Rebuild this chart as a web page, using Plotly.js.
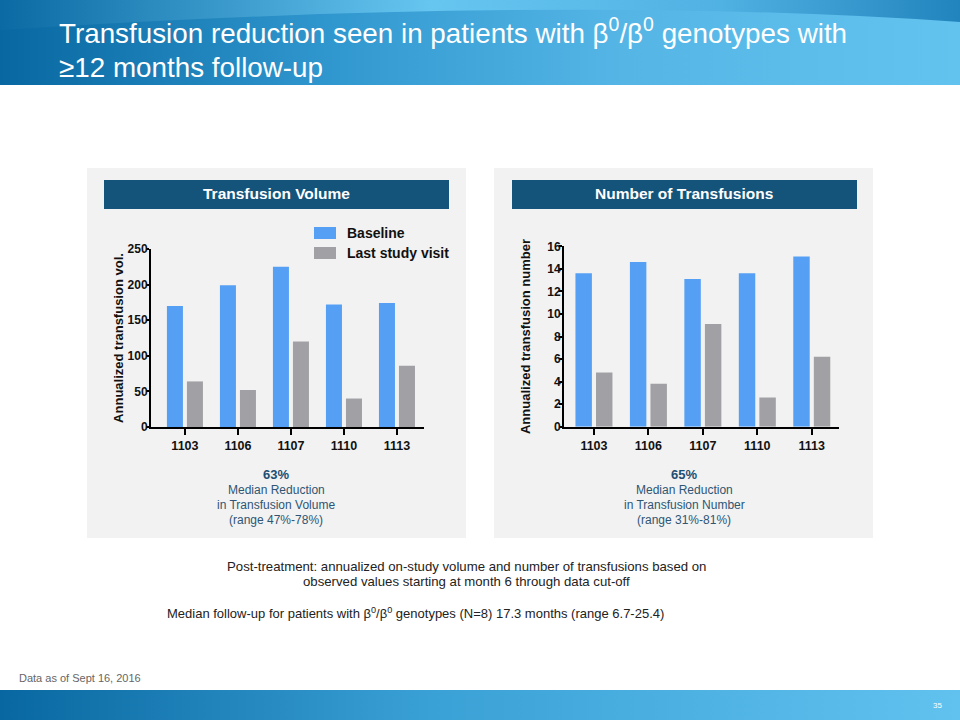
<!DOCTYPE html>
<html><head><meta charset="utf-8">
<script src="https://cdn.plot.ly/plotly-3.0.1.min.js"></script>
<style>
html,body{margin:0;padding:0;background:#fff;}
#wrap{position:relative;width:960px;height:720px;overflow:hidden;background:#fff;}
#bg{position:absolute;left:0;top:0;width:960px;height:720px;}
#chart{position:absolute;left:0;top:0;width:960px;height:720px;}
</style></head><body>
<div id="wrap">
<svg id="bg" width="960" height="720" xmlns="http://www.w3.org/2000/svg">
  <defs>
    <linearGradient id="hg" x1="0" y1="0" x2="1" y2="0">
      <stop offset="0" stop-color="#0867a0"/>
      <stop offset="0.35" stop-color="#3198cf"/>
      <stop offset="0.65" stop-color="#55b6e6"/>
      <stop offset="1" stop-color="#62c3ef"/>
    </linearGradient>
    <linearGradient id="tg" x1="0" y1="0" x2="1" y2="0">
      <stop offset="0" stop-color="#0b6aa3"/>
      <stop offset="0.45" stop-color="#6ccaf3"/>
      <stop offset="0.75" stop-color="#4fb0e2"/>
      <stop offset="1" stop-color="#1a7db7"/>
    </linearGradient>
    <linearGradient id="fg" x1="0" y1="0" x2="1" y2="0">
      <stop offset="0" stop-color="#0867a0"/>
      <stop offset="0.45" stop-color="#3aa1d6"/>
      <stop offset="1" stop-color="#61c2ef"/>
    </linearGradient>
  </defs>
  <rect x="0" y="0" width="960" height="85" fill="url(#hg)"/>
  <path d="M0,0 H960 V22 Q560,-6 0,30 Z" fill="url(#tg)" opacity="0.9"/>
  <rect x="0" y="690" width="960" height="30" fill="url(#fg)"/>
</svg>
<div id="chart"></div>
</div>
<script>
const patients = ['1103','1106','1107','1110','1113'];
const seriesNames = ['Baseline','Last study visit'];
const volumeBaseline = [170, 199, 225, 172, 174];
const volumeLast = [64, 52, 120, 40, 86];
const numberBaseline = [13.6, 14.6, 13.1, 13.6, 15.1];
const numberLast = [4.8, 3.8, 9.1, 2.6, 6.2];
const volumeTicks = [0, 50, 100, 150, 200, 250];
const numberTicks = [0, 2, 4, 6, 8, 10, 12, 14, 16];

const BLUE = '#559ff5';
const GREY = '#a1a1a5';
const W = 960, H = 720;
const px = x => x / W;
const py = y => 1 - y / H;

const traces = [
  {type:'bar', x:patients, y:volumeBaseline, name:seriesNames[0], marker:{color:BLUE}, xaxis:'x', yaxis:'y', hoverinfo:'skip'},
  {type:'bar', x:patients, y:volumeLast, name:seriesNames[1], marker:{color:GREY}, xaxis:'x', yaxis:'y', hoverinfo:'skip'},
  {type:'bar', x:patients, y:numberBaseline, name:seriesNames[0], marker:{color:BLUE}, xaxis:'x2', yaxis:'y2', hoverinfo:'skip'},
  {type:'bar', x:patients, y:numberLast, name:seriesNames[1], marker:{color:GREY}, xaxis:'x2', yaxis:'y2', hoverinfo:'skip'}
];

const sans = 'Liberation Sans, Arial, sans-serif';
const xTickFont = {family:sans, size:12.5, color:'#111', weight:700};
const yTickFont = {family:sans, size:12, color:'#111', weight:700};
const titleFont = {family:sans, size:13, color:'#111', weight:700};

function xAxis(d, r, anchor){
  return {domain:d, anchor:anchor, type:'category', range:r, showline:true, linewidth:2, linecolor:'#000',
    ticks:'outside', ticklen:6, tickwidth:2, tickcolor:'#000', tickfont:xTickFont, showgrid:false, zeroline:false, fixedrange:true};
}
function yAxis(d, r, tv, anchor, title, standoff){
  return {domain:d, anchor:anchor, range:r, tickvals:tv, showline:true, linewidth:2, linecolor:'#000',
    ticks:'outside', ticklen:3, tickwidth:2, tickcolor:'#000', tickfont:yTickFont, ticklabelstandoff:-4,
    showgrid:false, zeroline:false,
    title:{text:title, font:titleFont, standoff:standoff}, fixedrange:true};
}

const shapes = [
  {type:'rect', xref:'paper', yref:'paper', x0:px(87), x1:px(466), y0:py(538), y1:py(168), fillcolor:'#f2f2f2', line:{width:0}, layer:'below'},
  {type:'rect', xref:'paper', yref:'paper', x0:px(494), x1:px(873), y0:py(538), y1:py(168), fillcolor:'#f2f2f2', line:{width:0}, layer:'below'},
  {type:'rect', xref:'paper', yref:'paper', x0:px(104), x1:px(449), y0:py(209), y1:py(180), fillcolor:'#14537a', line:{width:0}, layer:'below'},
  {type:'rect', xref:'paper', yref:'paper', x0:px(512), x1:px(857), y0:py(209), y1:py(180), fillcolor:'#14537a', line:{width:0}, layer:'below'},
  // legend swatches
  {type:'rect', xref:'paper', yref:'paper', x0:px(314), x1:px(336), y0:py(239), y1:py(227), fillcolor:BLUE, line:{width:0}},
  {type:'rect', xref:'paper', yref:'paper', x0:px(314), x1:px(336), y0:py(259), y1:py(247), fillcolor:GREY, line:{width:0}}
];

function ann(text, x, y, opts){
  return Object.assign({text:text, x:px(x), y:py(y), xref:'paper', yref:'paper', showarrow:false,
    xanchor:'center', yanchor:'middle'}, opts);
}
const blueTxt = '#2f5574';
const annotations = [
  ann('Transfusion reduction seen in patients with β<sup>0</sup>/β<sup>0</sup> genotypes with', 57, 31, {xanchor:'left', font:{family:sans, size:27.8, color:'#fff'}}),
  ann('≥12 months follow-up', 57, 67, {xanchor:'left', font:{family:sans, size:27.8, color:'#fff'}}),
  ann('Transfusion Volume', 276, 194, {font:{family:sans, size:15.5, color:'#fff', weight:700}}),
  ann('Number of Transfusions', 684, 194, {font:{family:sans, size:15.5, color:'#fff', weight:700}}),
  ann(seriesNames[0], 345, 233, {xanchor:'left', font:{family:sans, size:14, color:'#111', weight:700}}),
  ann(seriesNames[1], 345, 253, {xanchor:'left', font:{family:sans, size:14, color:'#111', weight:700}}),
  ann('63%', 276, 474, {font:{family:sans, size:13, color:'#1d4e72', weight:700}}),
  ann('Median Reduction', 276, 490, {font:{family:sans, size:12, color:blueTxt}}),
  ann('in Transfusion Volume', 276, 505, {font:{family:sans, size:12, color:blueTxt}}),
  ann('(range 47%-78%)', 276, 520, {font:{family:sans, size:12, color:blueTxt}}),
  ann('65%', 684, 474, {font:{family:sans, size:13, color:'#1d4e72', weight:700}}),
  ann('Median Reduction', 684, 490, {font:{family:sans, size:12, color:blueTxt}}),
  ann('in Transfusion Number', 684, 505, {font:{family:sans, size:12, color:blueTxt}}),
  ann('(range 31%-81%)', 684, 520, {font:{family:sans, size:12, color:blueTxt}}),
  ann('Post-treatment: annualized on-study volume and number of transfusions based on', 466, 566, {font:{family:sans, size:13.2, color:'#222'}}),
  ann('observed values starting at month 6 through data cut-off', 466, 581, {font:{family:sans, size:13.2, color:'#222'}}),
  ann('Median follow-up for patients with β<sup>0</sup>/β<sup>0</sup> genotypes (N=8) 17.3 months (range 6.7-25.4)', 165, 613, {xanchor:'left', font:{family:sans, size:13, color:'#222'}}),
  ann('Data as of Sept 16, 2016', 17, 678, {xanchor:'left', font:{family:sans, size:11, color:'#666'}}),
  ann('35', 937, 705, {font:{family:sans, size:8, color:'#fff'}})
];

const layout = {
  width:W, height:H, margin:{l:0, r:0, t:0, b:0},
  paper_bgcolor:'rgba(0,0,0,0)', plot_bgcolor:'rgba(0,0,0,0)',
  showlegend:false, barmode:'group', bargap:0.245, bargroupgap:0.2,
  xaxis: xAxis([px(151), px(424)], [-0.64, 4.51], 'y'),
  yaxis: yAxis([py(427), py(249)], [0, 250], volumeTicks, 'x', 'Annualized transfusion vol.', 1),
  xaxis2: xAxis([px(564), px(839)], [-0.55, 4.5], 'y2'),
  yaxis2: yAxis([py(426.7), py(246.3)], [0, 16], numberTicks, 'x2', 'Annualized transfusion number', 14),
  shapes:shapes, annotations:annotations
};

Plotly.newPlot('chart', traces, layout, {staticPlot:true, displayModeBar:false});
</script>
</body></html>
